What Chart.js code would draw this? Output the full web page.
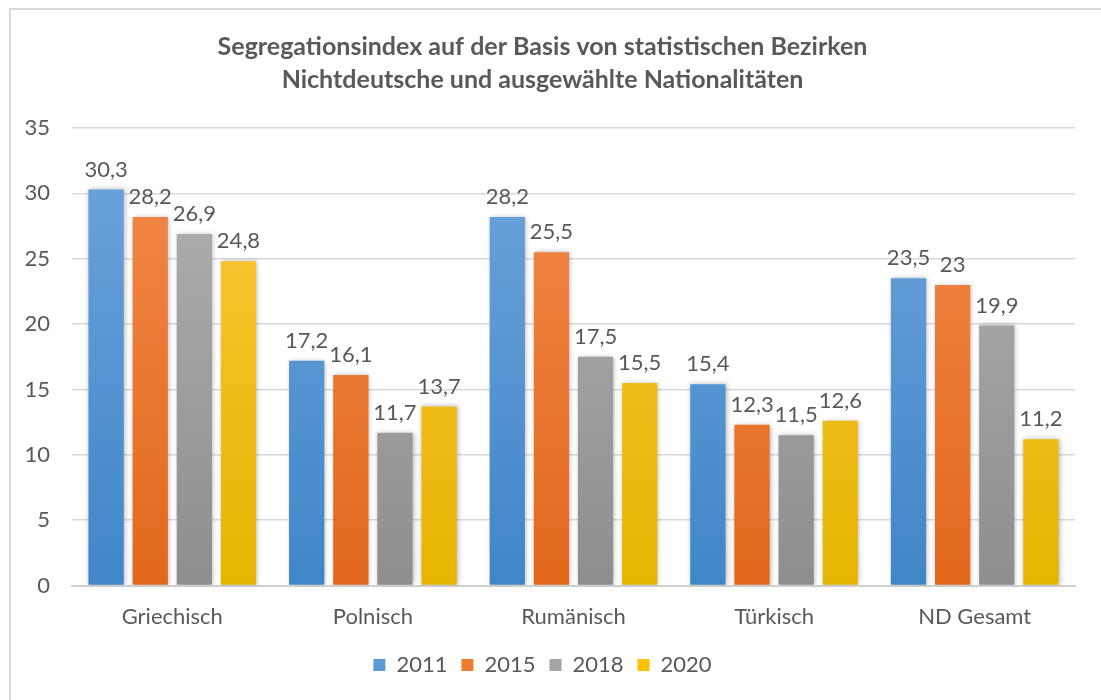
<!DOCTYPE html>
<html>
<head>
<meta charset="utf-8">
<script src="https://cdn.jsdelivr.net/npm/chart.js@4/dist/chart.umd.min.js"></script>
<style>
    body { margin: 0; background: #fff; }
    #frame {
        position: absolute; left: 9px; top: 8px;
        width: 1100px; height: 700px;
        border-left: 2px solid #d9d9d9; border-top: 2px solid #d9d9d9;
    }
    #wrap { position: absolute; left: 10px; top: 10px; width: 1091px; height: 690px; }
</style>
</head>
<body>
<div id="frame"></div>
<div id="wrap"><canvas id="segChart"></canvas></div>
<script>
const categories = ['Griechisch', 'Polnisch', 'Rumänisch', 'Türkisch', 'ND Gesamt'];
const years = ['2011', '2015', '2018', '2020'];
const values2011 = [30.3, 17.2, 28.2, 15.4, 23.5];
const values2015 = [28.2, 16.1, 25.5, 12.3, 23];
const values2018 = [26.9, 11.7, 17.5, 11.5, 19.9];
const values2020 = [24.8, 13.7, 15.5, 12.6, 11.2];
const yTicks = [0, 5, 10, 15, 20, 25, 30, 35];

// top / bottom colours of each bar gradient
const colors = [
    ['#70a5dd', '#3f86c8'],
    ['#f48b4e', '#e2681b'],
    ['#b3b3b3', '#8e8e8e'],
    ['#ffc83d', '#e5b500']
];
const legendColors = ['#5b9bd5', '#ed7d31', '#a5a5a5', '#ffc000'];

const fontFamily = 'Lato, "Open Sans", sans-serif';
const textColor = '#595959';

function barGradient(idx) {
    return function (context) {
        const area = context.chart.chartArea;
        if (!area) return colors[idx][1];
        const g = context.chart.ctx.createLinearGradient(0, area.top, 0, area.bottom);
        g.addColorStop(0, colors[idx][0]);
        g.addColorStop(1, colors[idx][1]);
        return g;
    };
}

const barShadow = {
    id: 'barShadow',
    beforeDatasetsDraw(chart) {
        const ctx = chart.ctx;
        ctx.save();
        ctx.shadowColor = 'rgba(0,0,0,0.28)';
        ctx.shadowBlur = 5;
        ctx.shadowOffsetX = 1;
        ctx.shadowOffsetY = 0;
    },
    afterDatasetsDraw(chart) {
        chart.ctx.restore();
    }
};

const valueLabels = {
    id: 'valueLabels',
    afterDraw(chart) {
        const ctx = chart.ctx;
        ctx.save();
        ctx.font = '22px ' + fontFamily;
        ctx.fillStyle = textColor;
        ctx.textAlign = 'center';
        ctx.textBaseline = 'bottom';
        chart.data.datasets.forEach((ds, i) => {
            chart.getDatasetMeta(i).data.forEach((bar, j) => {
                const txt = String(ds.data[j]).replace('.', ',');
                ctx.fillText(txt, bar.x, bar.y - 9);
            });
        });
        ctx.restore();
    }
};

const allValues = [values2011, values2015, values2018, values2020];

const ctx = document.getElementById('segChart').getContext('2d');
new Chart(ctx, {
    type: 'bar',
    data: {
        labels: categories,
        datasets: years.map((y, i) => ({
            label: y,
            data: allValues[i],
            backgroundColor: barGradient(i),
            borderWidth: 0,
            categoryPercentage: 0.88,
            barPercentage: 0.8
        }))
    },
    options: {
        responsive: true,
        maintainAspectRatio: false,
        animation: false,
        layout: { padding: { left: 0, right: 26, top: 0, bottom: 14 } },
        plugins: {
            title: {
                display: true,
                text: ['Segregationsindex auf der Basis von statistischen Bezirken',
                       'Nichtdeutsche und ausgewählte Nationalitäten'],
                color: textColor,
                font: { family: fontFamily, size: 25, weight: 'bold', lineHeight: 1.32 },
                padding: { top: 20, bottom: 32 }
            },
            legend: {
                position: 'bottom',
                labels: {
                    color: textColor,
                    font: { family: fontFamily, size: 22 },
                    boxWidth: 12,
                    boxHeight: 12,
                    padding: 14,
                    generateLabels(chart) {
                        return years.map((y, i) => ({
                            text: y,
                            fillStyle: legendColors[i],
                            strokeStyle: legendColors[i],
                            lineWidth: 0,
                            fontColor: textColor,
                            datasetIndex: i
                        }));
                    }
                }
            },
            tooltip: { enabled: false }
        },
        scales: {
            x: {
                grid: { display: false },
                border: { color: '#d0d0d0', width: 2 },
                ticks: {
                    color: textColor,
                    font: { family: fontFamily, size: 22 },
                    padding: 10
                }
            },
            y: {
                min: 0,
                max: 35,
                afterFit(scale) { scale.width = 62; },
                afterBuildTicks(scale) { scale.ticks = yTicks.map(v => ({ value: v })); },
                grid: { color: '#d9d9d9', lineWidth: 1.5, drawTicks: false },
                border: { display: false },
                ticks: {
                    color: textColor,
                    font: { family: fontFamily, size: 22 },
                    padding: 22
                }
            }
        }
    },
    plugins: [barShadow, valueLabels]
});
</script>
</body>
</html>
